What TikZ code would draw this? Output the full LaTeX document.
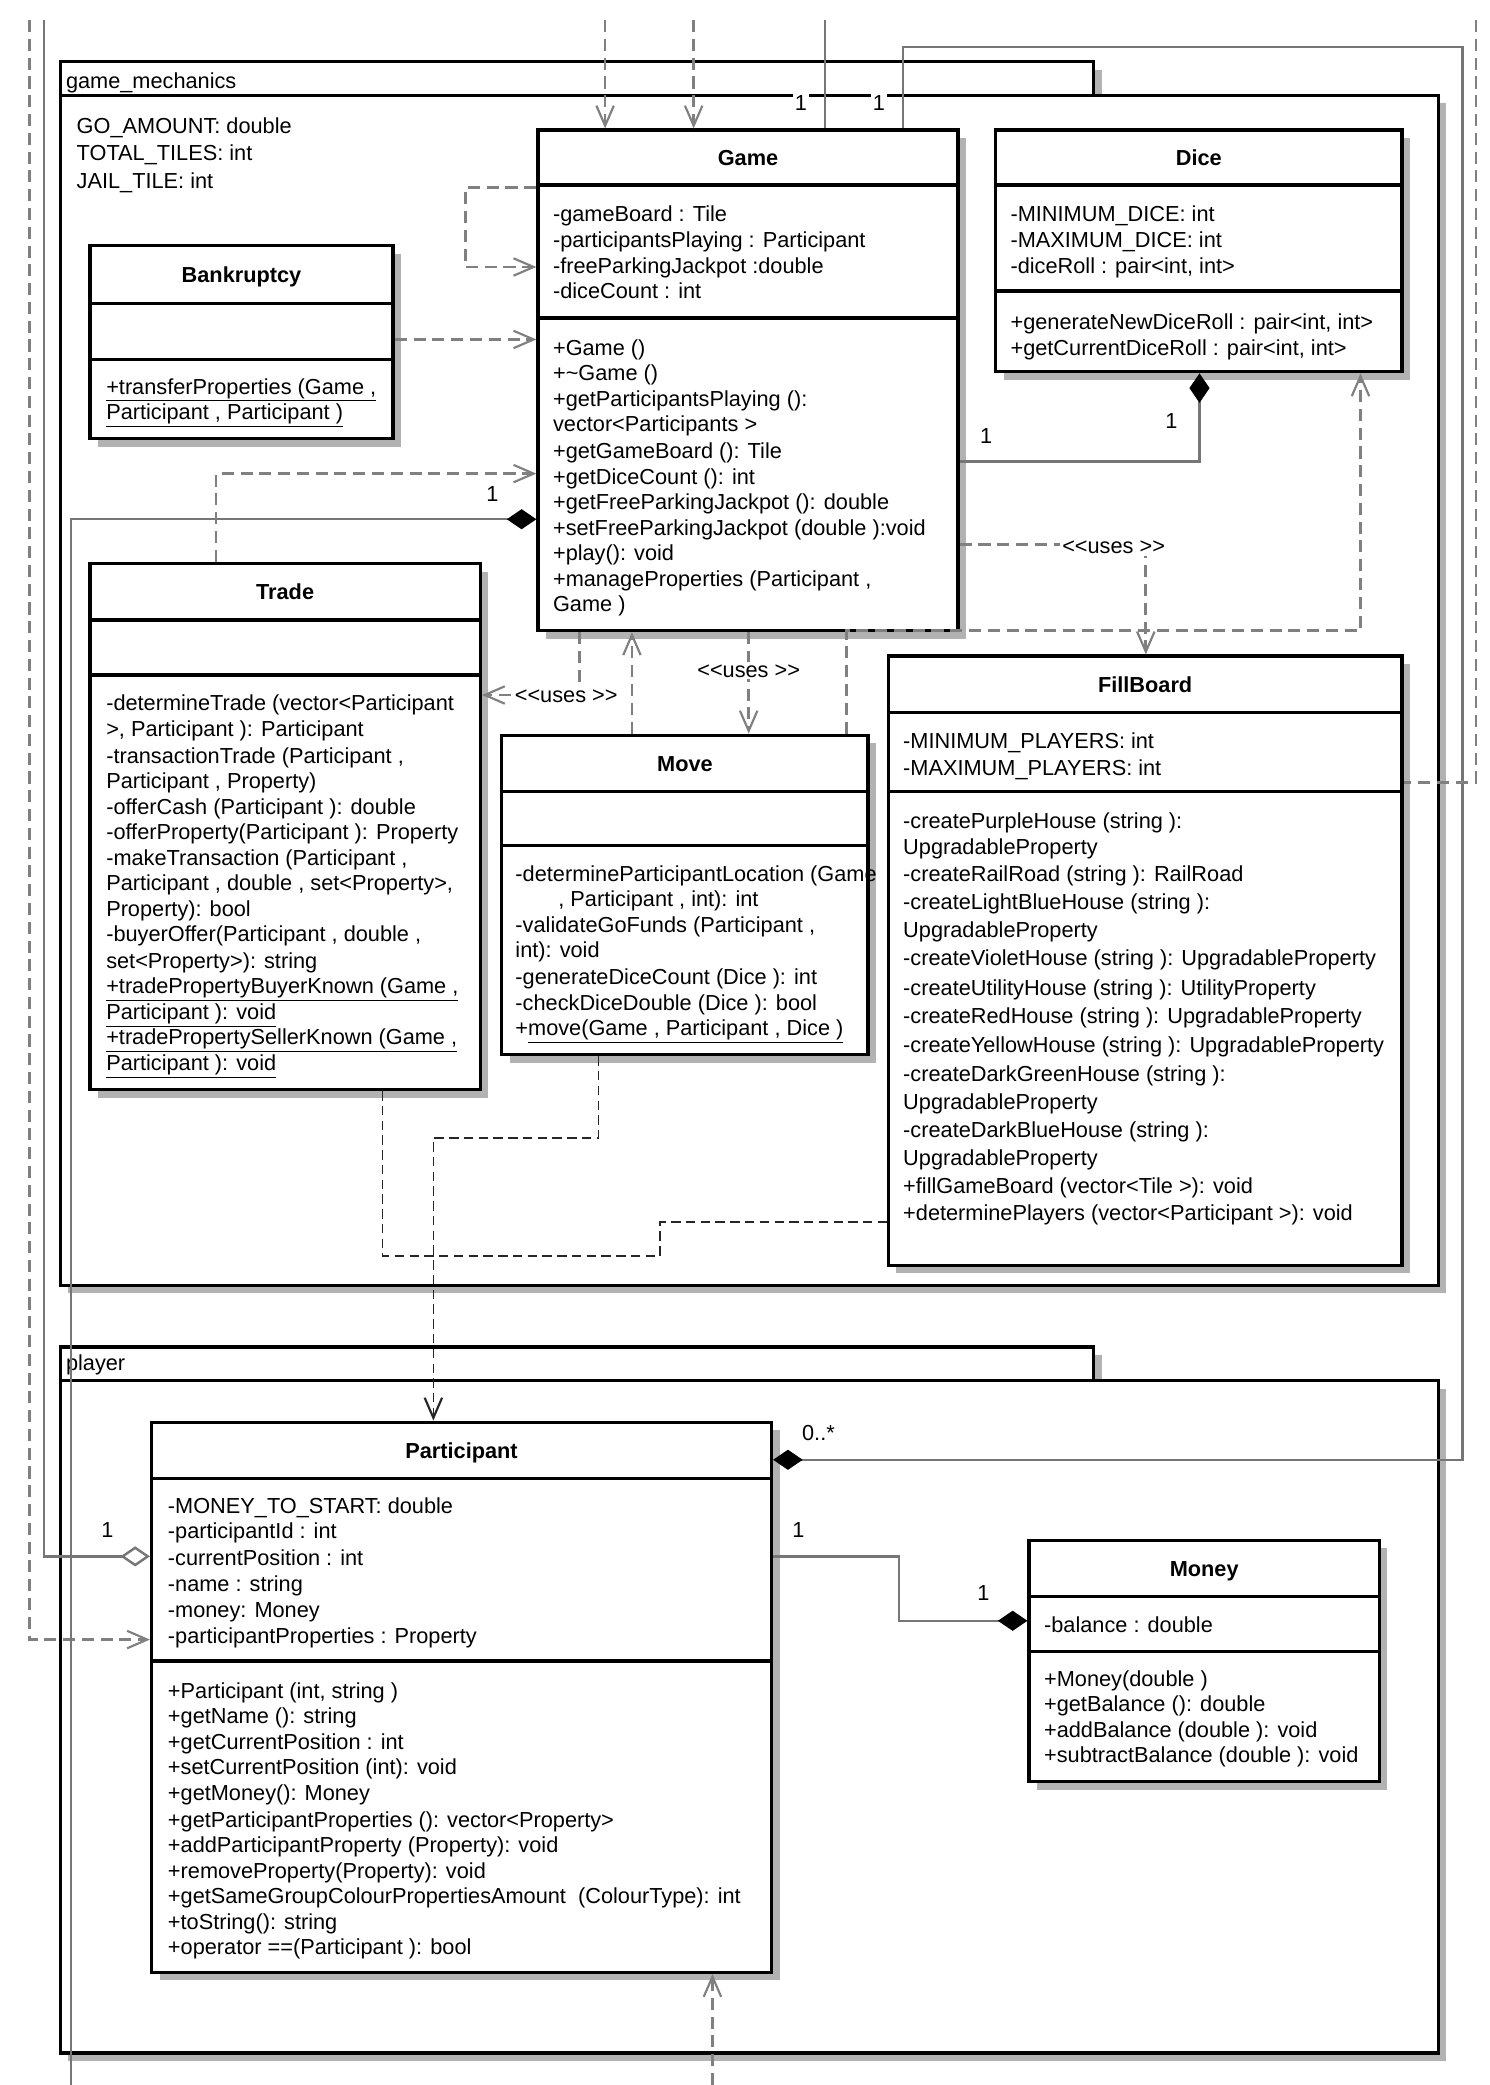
\documentclass[tikz,border=0pt]{standalone}
\usepackage{fontspec}
\setmainfont{Liberation Sans}
\usetikzlibrary{arrows.meta,fit}
\definecolor{shadowc}{RGB}{178,178,178}
\definecolor{linec}{RGB}{118,118,118}
\definecolor{dashc}{RGB}{128,128,128}
\tikzset{
  txt/.style={font=\fontsize{16.2}{19}\selectfont, inner sep=0pt, anchor=base west},
  ttl/.style={font=\fontsize{16.2}{19}\selectfont\bfseries, inner sep=0pt},
  boxline/.style={line width=2.5pt, draw=black},
  pkgline/.style={line width=2.6pt, draw=black},
  assocline/.style={draw=linec, line width=1.8pt},
  depline/.style={draw=dashc, line width=2pt, dash pattern=on 9pt off 5pt},
  darkdep/.style={draw=black!85, line width=1.3pt, dash pattern=on 7pt off 4pt},
  opentip/.style={-{Straight Barb[length=15pt,width=13pt,line width=1.6pt]}},
  lbl/.style={font=\fontsize{16.2}{19}\selectfont, inner sep=1.5pt, fill=white},
}
\newcommand\tx{0}
\newcommand\tl[2]{\node[txt] at (\tx,{#1+5.8}) {#2};}
\newcommand\umlbox[8]{%
  \fill[shadowc] ({#2+6},{#3+6}) rectangle ({#4+6},{#5+6});
  \node[boxline, fill=white, inner sep=0pt, fit={(#2,#3) (#4,#5)}] (#1) {};
  \draw[boxline] (#2,#7) -- (#4,#7);
  \draw[boxline] (#2,#8) -- (#4,#8);
  \node[ttl, anchor=base] at ({(#2+#4)/2},{(#3+#7)/2+5.8}) {#6};
}
\begin{document}
\begin{tikzpicture}[x=1pt,y=-1pt]
\useasboundingbox (0,0) rectangle (1110,1554);
\fill[white] (0,0) rectangle (1110,1554);

% ---------- packages ----------
\fill[shadowc] (51,52) rectangle (821,77);
\fill[shadowc] (51,77) rectangle (1078,964);
\node[pkgline, fill=white, inner sep=0pt, fit={(45,46) (815,71)}] (gmtab) {};
\node[pkgline, fill=white, inner sep=0pt, fit={(45,71) (1072,958)}] (gm) {};
\node[txt] (gmname) at (49,65.8) {game\_mechanics};

\fill[shadowc] (51,1010) rectangle (821,1035);
\fill[shadowc] (51,1035) rectangle (1078,1536);
\node[pkgline, fill=white, inner sep=0pt, fit={(45,1004) (815,1029)}] (pltab) {};
\node[pkgline, fill=white, inner sep=0pt, fit={(45,1029) (1072,1530)}] (pl) {};
\node[txt] (plname) at (49,1021.8) {player};

\renewcommand\tx{57}
\tl{94}{GO\_AMOUNT: double}
\tl{114}{TOTAL\_TILES: int}
\tl{135}{JAIL\_TILE: int}

% ---------- free ends ----------
\coordinate (topA) at (451,15);
\coordinate (topB) at (517,15);
\coordinate (topC) at (615,15);
\coordinate (leftD) at (22,15);
\coordinate (leftS) at (33,15);
\coordinate (bottomL) at (53,1554);
\coordinate (rightD) at (1100,15);
\coordinate (bottomP) at (531,1554);

% ---------- classes ----------
\umlbox{game}{401}{97}{714}{470}{Game}{138}{237}
\umlbox{dice}{742}{97}{1045}{277}{Dice}{138}{217}
\umlbox{bank}{67}{183}{293}{327}{Bankruptcy}{226}{268}
\umlbox{trade}{67}{420}{358}{812}{Trade}{462}{503}
\umlbox{move}{374}{548}{647}{786}{Move}{590}{630}
\umlbox{fill}{662}{489}{1045}{943}{FillBoard}{531}{590}
\umlbox{part}{113}{1060}{575}{1470}{Participant}{1102}{1238}
\umlbox{money}{767}{1148}{1028}{1328}{Money}{1190}{1231}

% ---------- connectors ----------
\draw[depline, opentip] (topA) -- (topA |- game.north);
\draw[depline, opentip] (topB) -- (topB |- game.north);
\draw[assocline] (topC) -- (topC |- game.north);
\draw[assocline, -{Diamond[length=22pt,width=15pt,fill=black,color=black]}]
  (673,0 |- game.north) -- (673,35) -- (1090,35) -- (1090,1088) -- (part.east |- 0,1088);
\draw[depline] (rightD) -- (1100,583) -- (fill.east |- 0,583);
\draw[depline, opentip] (leftD) -- (22,1222) -- (part.west |- 0,1222);
\draw[assocline, -{Diamond[length=22pt,width=15pt,fill=white,color=linec]}]
  (leftS) -- (33,1160) -- (part.west |- 0,1160);
\draw[assocline, {Diamond[length=22pt,width=15pt,fill=black,color=black]}-]
  (game.west |- 0,387) -- (53,387) -- (bottomL);
\draw[depline, opentip] (game.west |- 0,140) -- (347,140) -- (347,199) -- (game.west |- 0,199);
\draw[depline, opentip] (bank.east |- 0,253) -- (game.west |- 0,253);
\draw[depline, opentip] (161,0 |- trade.north) -- (161,353) -- (game.west |- 0,353);
\draw[depline, opentip] (432,0 |- game.south) -- (432,518) -- (trade.east |- 0,518);
\draw[depline, opentip] (471,0 |- move.north) -- (471,0 |- game.south);
\draw[depline, opentip] (558,0 |- game.south) -- (558,0 |- move.north);
\draw[depline, opentip] (631,0 |- move.north) -- (631,470) -- (1014,470) -- (1014,0 |- dice.south);
\draw[depline, opentip] (game.east |- 0,406) -- (854,406) -- (854,0 |- fill.north);
\draw[assocline, {Diamond[length=22pt,width=15pt,fill=black,color=black]}-]
  (894,0 |- dice.south) -- (894,344) -- (game.east |- 0,344);
\draw[darkdep] (285,0 |- trade.south) -- (285,936) -- (492,936) -- (492,911) -- (fill.west |- 0,911);
\draw[darkdep, opentip] (446,0 |- move.south) -- (446,848) -- (323,848) -- (323,0 |- part.north);
\draw[depline, opentip] (bottomP) -- (bottomP |- part.south);
\draw[assocline, -{Diamond[length=22pt,width=15pt,fill=black,color=black]}]
  (part.east |- 0,1160) -- (670,1160) -- (670,1208) -- (money.west |- 0,1208);

% ---------- labels ----------
\node[lbl] (m1) at (597,77) {1};
\node[lbl] (m2) at (655,77) {1};
\node[lbl, fill=none] (m3) at (610,1068) {0..*};
\node[lbl, fill=none] (m4) at (80,1140) {1};
\node[lbl, fill=none] (m5) at (367,368) {1};
\node[lbl, fill=none] (m6) at (873,314) {1};
\node[lbl, fill=none] (m7) at (735,325) {1};
\node[lbl, fill=none] (m8) at (595,1140) {1};
\node[lbl, fill=none] (m9) at (733,1187) {1};
\node[lbl] (u1) at (422,519) {<{}<uses >{}>};
\node[lbl] (u2) at (558,500) {<{}<uses >{}>};
\node[lbl] (u3) at (830,408) {<{}<uses >{}>};

% ---------- Game text ----------
\renewcommand\tx{412}
\tl{159}{-gameBoard : Tile}
\tl{179}{-participantsPlaying : Participant}
\tl{198}{-freeParkingJackpot :double}
\tl{217}{-diceCount : int}
\tl{259}{+Game ()}
\tl{278}{+\textasciitilde Game ()}
\tl{297}{+getParticipantsPlaying ():}
\tl{316}{vector<Participants >}
\tl{336}{+getGameBoard (): Tile}
\tl{355}{+getDiceCount (): int}
\tl{374}{+getFreeParkingJackpot (): double}
\tl{393}{+setFreeParkingJackpot (double ):void}
\tl{412}{+play(): void}
\tl{431}{+manageProperties (Participant ,}
\tl{450}{Game )}

% ---------- Dice text ----------
\renewcommand\tx{753}
\tl{159}{-MINIMUM\_DICE: int}
\tl{179}{-MAXIMUM\_DICE: int}
\tl{198}{-diceRoll : pair<int, int>}
\tl{240}{+generateNewDiceRoll : pair<int, int>}
\tl{259}{+getCurrentDiceRoll : pair<int, int>}

% ---------- Bankruptcy text ----------
\renewcommand\tx{79}
\tl{288}{\underline{+transferProperties (Game ,}}
\tl{307}{\underline{Participant , Participant )}}

% ---------- Trade text ----------
\renewcommand\tx{79}
\tl{524}{-determineTrade (vector<Participant}
\tl{543}{>, Participant ): Participant}
\tl{563}{-transactionTrade (Participant ,}
\tl{582}{Participant , Property)}
\tl{601}{-offerCash (Participant ): double}
\tl{620}{-offerProperty(Participant ): Property}
\tl{639}{-makeTransaction (Participant ,}
\tl{658}{Participant , double , set<Property>,}
\tl{677}{Property): bool}
\tl{696}{-buyerOffer(Participant , double ,}
\tl{716}{set<Property>): string}
\tl{735}{\underline{+tradePropertyBuyerKnown (Game ,}}
\tl{754}{\underline{Participant ): void}}
\tl{773}{\underline{+tradePropertySellerKnown (Game ,}}
\tl{792}{\underline{Participant ): void}}

% ---------- Move text ----------
\renewcommand\tx{384}
\tl{651}{-determineParticipantLocation (Game}
\tl{670}{\hspace*{32pt}, Participant , int): int}
\tl{689}{-validateGoFunds (Participant ,}
\tl{708}{int): void}
\tl{728}{-generateDiceCount (Dice ): int}
\tl{747}{-checkDiceDouble (Dice ): bool}
\tl{766}{+\underline{move(Game , Participant , Dice )}}

% ---------- FillBoard text ----------
\renewcommand\tx{673}
\tl{552}{-MINIMUM\_PLAYERS: int}
\tl{572}{-MAXIMUM\_PLAYERS: int}
\tl{612}{-createPurpleHouse (string ):}
\tl{631}{UpgradableProperty}
\tl{651}{-createRailRoad (string ): RailRoad}
\tl{672}{-createLightBlueHouse (string ):}
\tl{693}{UpgradableProperty}
\tl{714}{-createVioletHouse (string ): UpgradableProperty}
\tl{736}{-createUtilityHouse (string ): UtilityProperty}
\tl{757}{-createRedHouse (string ): UpgradableProperty}
\tl{779}{-createYellowHouse (string ): UpgradableProperty}
\tl{800}{-createDarkGreenHouse (string ):}
\tl{821}{UpgradableProperty}
\tl{842}{-createDarkBlueHouse (string ):}
\tl{863}{UpgradableProperty}
\tl{884}{+fillGameBoard (vector<Tile >): void}
\tl{904}{+determinePlayers (vector<Participant >): void}

% ---------- Participant text ----------
\renewcommand\tx{125}
\tl{1122}{-MONEY\_TO\_START: double}
\tl{1141}{-participantId : int}
\tl{1161}{-currentPosition : int}
\tl{1180}{-name : string}
\tl{1200}{-money: Money}
\tl{1219}{-participantProperties : Property}
\tl{1260}{+Participant (int, string )}
\tl{1279}{+getName (): string}
\tl{1298}{+getCurrentPosition : int}
\tl{1317}{+setCurrentPosition (int): void}
\tl{1336}{+getMoney(): Money}
\tl{1356}{+getParticipantProperties (): vector<Property>}
\tl{1375}{+addParticipantProperty (Property): void}
\tl{1394}{+removeProperty(Property): void}
\tl{1413}{+getSameGroupColourPropertiesAmount \ (ColourType): int}
\tl{1432}{+toString(): string}
\tl{1451}{+operator ==(Participant ): bool}

% ---------- Money text ----------
\renewcommand\tx{778}
\tl{1211}{-balance : double}
\tl{1251}{+Money(double )}
\tl{1270}{+getBalance (): double}
\tl{1289}{+addBalance (double ): void}
\tl{1308}{+subtractBalance (double ): void}
\end{tikzpicture}
\end{document}
